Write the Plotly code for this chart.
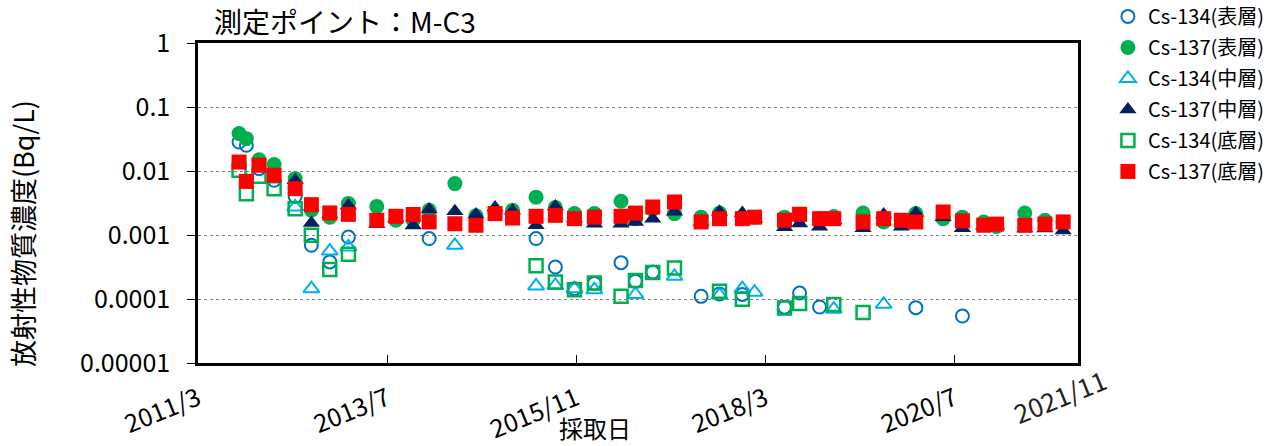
import plotly.graph_objects as go

dates = ["2011-09-02","2011-10-05","2011-12-01","2012-02-07","2012-05-12","2012-07-24","2012-10-15",
         "2013-01-07","2013-05-15","2013-08-09","2013-10-26","2014-01-06","2014-05-02","2014-08-05",
         "2014-10-30","2015-01-17","2015-05-03","2015-07-29","2015-10-23","2016-01-21","2016-05-20",
         "2016-07-24","2016-10-10","2017-01-16","2017-05-16","2017-08-07","2017-11-18","2018-01-12",
         "2018-05-27","2018-08-03","2018-11-01","2019-01-04","2019-05-16","2019-08-17","2019-11-05",
         "2020-01-09","2020-05-11","2020-08-06","2020-11-10","2021-01-07","2021-05-14","2021-08-13",
         "2021-11-03"]
N = None
cs134_surface = [0.0284,0.0252,0.0109,0.00716,0.00402,0.00069,0.00038,0.00093,N,N,N,0.00088,N,N,
                 N,N,0.00088,0.000316,0.000145,0.000175,0.00037,0.00019,0.000264,N,0.00011,0.00012,0.000118,N,
                 0.0000745,0.000124,0.000075,N,N,N,N,0.0000733,N,0.0000542,N,N,N,N,N]
cs137_surface = [0.0384,0.032,0.0150,0.0126,0.0076,0.00243,0.0019,0.0031,0.0028,0.0017,0.0017,0.00243,0.00635,0.0020,
                 0.0022,0.00243,0.0039,0.0027,0.00216,0.00216,0.00336,0.0018,0.0025,0.00216,0.0019,0.0022,0.0019,0.0019,
                 0.0019,0.0019,0.0018,0.00195,0.0022,0.0016,0.0017,0.00216,0.0018,0.0019,0.0016,0.00136,0.0022,0.0017,0.0016]
cs134_middle = [N,N,N,N,0.00274,0.000145,0.00056,0.00065,N,N,N,N,0.00069,N,
                N,N,0.00016,0.000163,0.000145,0.00014,N,0.000118,N,0.000226,N,0.000115,0.000145,0.000128,
                N,N,N,0.0000692,N,0.0000826,N,N,N,N,N,N,N,N,N]
cs137_middle = [N,N,N,N,0.0072,0.00154,0.0021,0.0029,0.00147,0.0018,0.00141,0.0025,0.00234,0.0021,
                0.0027,0.0024,0.00142,0.0028,0.0018,0.0015,0.0015,0.0016,0.0018,0.0023,0.0016,0.0023,0.0022,0.0018,
                0.00132,0.00151,0.00134,0.0017,0.00127,0.0021,0.00134,0.0022,0.0019,0.00127,0.0014,0.0014,0.00126,0.00126,0.00118]
cs134_bottom = [0.0103,0.00443,0.0083,0.0053,0.00258,0.00099,0.00029,0.0005,N,N,N,N,N,N,
                N,N,0.00033,0.000185,0.00014,0.000178,0.00011,0.000195,0.00026,0.000305,N,0.000132,0.0000989,N,
                0.0000724,0.0000848,N,0.0000817,0.0000613,N,N,N,N,N,N,N,N,N,N]
cs137_bottom = [0.0138,0.0069,0.0123,0.00857,0.0053,0.00298,0.00221,0.0021,0.0017,0.00196,0.00209,0.0016,0.0015,0.00142,
                0.00216,0.00184,0.00196,0.00203,0.0018,0.0019,0.00196,0.0022,0.00274,0.00328,0.0016,0.0018,0.0018,0.0019,
                0.0017,0.00211,0.0018,0.0018,0.0016,0.0018,0.0017,0.0016,0.00229,0.00166,0.00142,0.00148,0.00142,0.00148,0.0016]

series_names = ["Cs-134(表層)","Cs-137(表層)","Cs-134(中層)","Cs-137(中層)","Cs-134(底層)","Cs-137(底層)"]
x_tickvals = ["2011-03-01","2013-07-01","2015-11-01","2018-03-01","2020-07-01"]
x_ticktext = ["2011/3","2013/7","2015/11","2018/3","2020/7"]
y_tickvals = [1,0.1,0.01,0.001,0.0001,0.00001]
y_ticktext = ["1","0.1","0.01","0.001","0.0001","0.00001"]

FONT = "Noto Sans CJK JP"
styles = [
    dict(symbol="circle-open", color="#0070C0", size=13, line=dict(width=2, color="#0070C0")),
    dict(symbol="circle", color="#00B050", size=15),
    dict(symbol="triangle-up-open", color="#00B0F0", size=14, line=dict(width=2, color="#00B0F0")),
    dict(symbol="triangle-up", color="#002060", size=15),
    dict(symbol="square-open", color="#00B050", size=13, line=dict(width=2.5, color="#00B050")),
    dict(symbol="square", color="#FF0000", size=15),
]
values = [cs134_surface, cs137_surface, cs134_middle, cs137_middle, cs134_bottom, cs137_bottom]

fig = go.Figure()
for name, vals, st in zip(series_names, values, styles):
    xs = [d for d, v in zip(dates, vals) if v is not None]
    ys = [v for v in vals if v is not None]
    fig.add_trace(go.Scatter(x=xs, y=ys, mode="markers", name=name, marker=st, legendgroup=name))

fig.update_layout(
    template="none",
    width=1282, height=446,
    margin=dict(l=198, r=204, t=43, b=83, autoexpand=False),
    paper_bgcolor="white", plot_bgcolor="white",
    font=dict(family=FONT, color="black"),
    showlegend=True,
    legend=dict(x=1.034, y=1.144, xanchor="left", yanchor="top", font=dict(size=20, family=FONT),
                bgcolor="rgba(0,0,0,0)", tracegroupgap=2, itemwidth=30),
    annotations=[
        dict(text="測定ポイント：M-C3", x=0.016, y=1.069, xref="paper", yref="paper",
             xanchor="left", yanchor="middle", showarrow=False, font=dict(size=28, family=FONT)),
        dict(text="放射性物質濃度(Bq/L)", x=-0.2, y=0.403, xref="paper", yref="paper",
             xanchor="center", yanchor="middle", textangle=-90, showarrow=False, font=dict(size=27, family=FONT)),
        dict(text="採取日", x=0.451, y=-0.203, xref="paper", yref="paper",
             xanchor="center", yanchor="middle", showarrow=False, font=dict(size=24, family=FONT)),
        dict(text="2021/11", x=0.9795, y=-0.10, xref="paper", yref="paper",
             xanchor="center", yanchor="middle", textangle=-22, showarrow=False,
             font=dict(size=26, family=FONT, color="#222222")),
    ],
)
fig.update_xaxes(
    type="date", range=["2011-03-01", "2022-01-09"], automargin=False,
    tickvals=x_tickvals, ticktext=x_ticktext, tickangle=-22,
    tickfont=dict(size=25, family=FONT), ticks="inside", ticklen=8, tickcolor="black", tickwidth=1,
    showline=True, linecolor="black", linewidth=2.5, mirror=True, showgrid=False, zeroline=False,
    ticklabelstandoff=9,
)
fig.update_yaxes(
    type="log", range=[-5, 0], tickvals=y_tickvals, ticktext=y_ticktext, automargin=False,
    tickfont=dict(size=25, family=FONT), ticks="outside", ticklen=8, tickcolor="black", tickwidth=1,
    showline=True, linecolor="black", linewidth=2.5, mirror=True, zeroline=False,
    showgrid=True, gridcolor="#7f7f7f", gridwidth=1, griddash="dot",
    ticklabelstandoff=12,
)
fig.write_html("out.html", config={"displayModeBar": False},
               post_script="document.body.style.margin='0';document.body.style.overflow='hidden';")
